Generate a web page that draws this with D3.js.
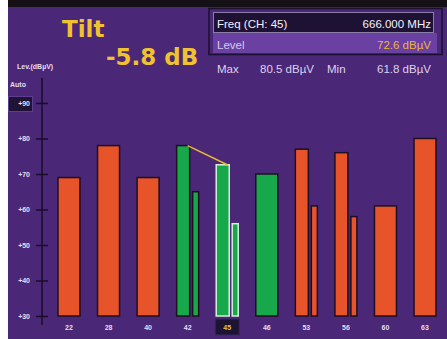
<!DOCTYPE html>
<html>
<head>
<meta charset="utf-8">
<script src="https://cdn.jsdelivr.net/npm/d3@7"></script>
<style>
  html, body { margin: 0; padding: 0; background: #ffffff; }
  svg { display: block; }
</style>
</head>
<body>
<svg id="chart" width="447" height="339"></svg>
<script>
// Channel plan and measured levels (dBµV)
const channels   = ["22", "28", "40", "42", "45", "46", "53", "56", "60", "63"];
const mainLevel  = [69, 78, 69, 78, 72.6, 70, 77, 76, 61, 80];
const subLevel   = [null, null, null, 65, 56, null, 61, 58, null, null];
const carrier    = ["analog", "analog", "analog", "digital", "digital", "digital", "analog", "analog", "analog", "analog"];
const tickValues = [30, 40, 50, 60, 70, 80, 90];
const tickLabels = ["+30", "+40", "+50", "+60", "+70", "+80", "+90"];

// Tilt measured between these two channels
const tiltFrom = "42";
const tiltTo = "45";
const selected = "45";

const readout = {
  freqLabel: "Freq (CH: 45)",
  freqValue: "666.000 MHz",
  levelLabel: "Level",
  levelValue: "72.6 dBµV",
  max: "80.5 dBµV",
  min: "61.8 dBµV",
  tilt: "-5.8 dB"
};

const colors = {
  bg: "#4a2777",
  topStrip: "#141015",
  analog: "#e8542a",
  digital: "#17a84b",
  outline: "#1d1020",
  selOutline: "#d6efd9",
  yellow: "#f0c232",
  axis: "#1a0e28",
  label: "#e6def2"
};

const svg = d3.select("#chart");

// Screen background
svg.append("rect").attr("x", 8).attr("y", 0).attr("width", 439).attr("height", 339).attr("fill", colors.bg);
svg.append("rect").attr("x", 8).attr("y", 0).attr("width", 439).attr("height", 7).attr("fill", colors.topStrip);

const x = d3.scaleBand().domain(channels).range([49.2, 444.8]);
const y = d3.scaleLinear().domain([30, 90]).range([316, 103]);

const data = channels.map((c, i) => ({
  ch: c, main: mainLevel[i], sub: subLevel[i], kind: carrier[i]
}));

// Level axis
svg.append("rect").attr("x", 8.5).attr("y", 96.5).attr("width", 24).attr("height", 15)
  .attr("fill", "#1f1436").attr("stroke", "#5e3d8e").attr("stroke-width", 1);

const axis = d3.axisLeft(y)
  .tickValues(tickValues)
  .tickFormat((d, i) => tickLabels[i])
  .tickSize(6)
  .tickPadding(6);

const gAxis = svg.append("g").attr("transform", "translate(42,0)").call(axis);
gAxis.select(".domain").remove();
gAxis.selectAll(".tick line").attr("x1", 6).attr("stroke", colors.axis).attr("stroke-width", 1.5);
gAxis.selectAll(".tick text")
  .attr("fill", colors.label)
  .style("font-family", "'Liberation Sans', Arial, sans-serif")
  .style("font-size", "7px")
  .style("font-weight", "bold");
svg.append("line").attr("x1", 42).attr("x2", 42).attr("y1", 78).attr("y2", 325)
  .attr("stroke", colors.axis).attr("stroke-width", 1.5);

svg.append("text").attr("x", 17).attr("y", 69).text("Lev.(dBµV)")
  .attr("fill", colors.label).style("font-family", "'Liberation Sans', Arial, sans-serif")
  .style("font-size", "7px").style("font-weight", "bold");
svg.append("text").attr("x", 10).attr("y", 87).text("Auto")
  .attr("fill", colors.label).style("font-family", "'Liberation Sans', Arial, sans-serif")
  .style("font-size", "7px").style("font-weight", "bold");

// Bars: wide for single carriers, main + narrow sub-bar for paired channels
const bw = x.bandwidth();
const wide = bw * 0.556;
const mainW = 13, gap = 3, subW = 6;

const gBars = svg.append("g");
data.forEach(d => {
  const cx = x(d.ch) + bw / 2;
  const fill = d.kind === "analog" ? colors.analog : colors.digital;
  const stroke = d.ch === selected ? colors.selOutline : colors.outline;
  if (d.sub === null) {
    gBars.append("rect")
      .attr("x", cx - wide / 2).attr("width", wide)
      .attr("y", y(d.main)).attr("height", y(30) - y(d.main))
      .attr("fill", fill).attr("stroke", stroke).attr("stroke-width", 1.5);
  } else {
    const left = cx - wide / 2;
    gBars.append("rect")
      .attr("x", left).attr("width", mainW)
      .attr("y", y(d.main)).attr("height", y(30) - y(d.main))
      .attr("fill", fill).attr("stroke", stroke).attr("stroke-width", 1.5);
    gBars.append("rect")
      .attr("x", left + mainW + gap).attr("width", subW)
      .attr("y", y(d.sub)).attr("height", y(30) - y(d.sub))
      .attr("fill", fill).attr("stroke", stroke).attr("stroke-width", 1.5);
  }
});

// Tilt line between the two reference channels
const dFrom = data.find(d => d.ch === tiltFrom);
const dTo = data.find(d => d.ch === tiltTo);
svg.append("line")
  .attr("x1", x(tiltFrom) + bw / 2).attr("y1", y(dFrom.main))
  .attr("x2", x(tiltTo) + bw / 2).attr("y2", y(dTo.main))
  .attr("stroke", "#e9b934").attr("stroke-width", 1.5);

// Channel labels
const selX = x(selected) + bw / 2;
svg.append("rect").attr("x", selX - 12).attr("y", 319).attr("width", 24).attr("height", 16)
  .attr("fill", "#1d1434").attr("stroke", "#3a2660").attr("stroke-width", 1);

svg.append("g").selectAll("text").data(channels).join("text")
  .attr("x", c => x(c) + bw / 2)
  .attr("y", 330)
  .attr("text-anchor", "middle")
  .attr("fill", c => c === selected ? colors.yellow : colors.label)
  .style("font-family", "'Liberation Sans', Arial, sans-serif")
  .style("font-size", "7px")
  .style("font-weight", "bold")
  .text(c => c);

// Tilt readout
svg.append("text").attr("x", 62).attr("y", 37).text("Tilt")
  .attr("fill", colors.yellow).style("font-family", "'DejaVu Sans', sans-serif")
  .style("font-size", "23px").style("font-weight", "bold");
svg.append("text").attr("x", 106).attr("y", 65).text(readout.tilt)
  .attr("fill", colors.yellow).style("font-family", "'DejaVu Sans', sans-serif")
  .style("font-size", "23px").style("font-weight", "bold");

// Channel info panel
svg.append("rect").attr("x", 209).attr("y", 8.5).attr("width", 233).attr("height", 46)
  .attr("fill", colors.bg).attr("stroke", "#1a1030").attr("stroke-width", 1.5);
svg.append("rect").attr("x", 213).attr("y", 33).attr("width", 224).attr("height", 20)
  .attr("fill", "#6a40a2");
svg.append("rect").attr("x", 213.5).attr("y", 12.5).attr("width", 220).attr("height", 20)
  .attr("fill", "#1d1233").attr("stroke", "#8a7ea6").attr("stroke-width", 1);

const infoFont = "'Liberation Sans', Arial, sans-serif";
function info(txt, xPos, yPos, fill, anchor) {
  svg.append("text").attr("x", xPos).attr("y", yPos).text(txt)
    .attr("fill", fill).attr("text-anchor", anchor || "start")
    .style("font-family", infoFont).style("font-size", "11.5px");
}
info(readout.freqLabel, 217, 28, "#f4f0fa");
info(readout.freqValue, 431, 28, "#f4f0fa", "end");
info(readout.levelLabel, 217, 49, "#d6c8ee");
info(readout.levelValue, 431, 49, "#eab53a", "end");
info("Max", 217, 73, "#ddd2f0");
info(readout.max, 260, 73, "#ddd2f0");
info("Min", 327, 73, "#ddd2f0");
info(readout.min, 431, 73, "#ddd2f0", "end");
</script>
</body>
</html>
